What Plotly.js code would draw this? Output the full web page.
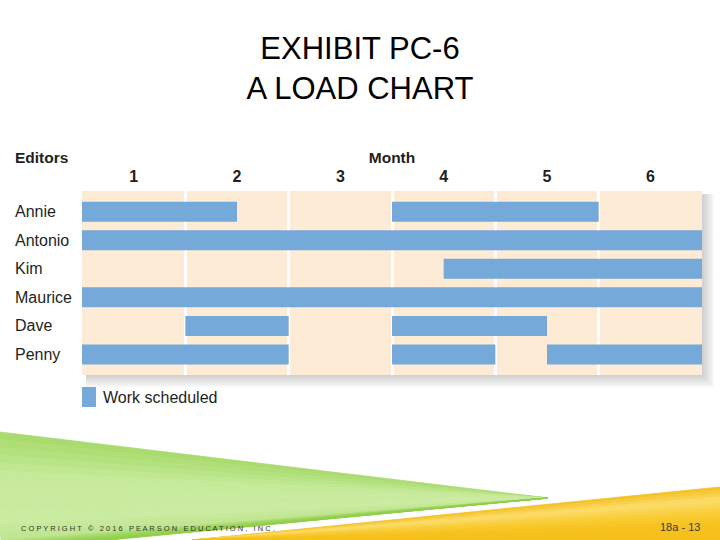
<!DOCTYPE html>
<html>
<head>
<meta charset="utf-8">
<script src="https://cdn.plot.ly/plotly-3.0.1.min.js"></script>
<style>html,body{margin:0;padding:0;background:#fff}#chart{width:720px;height:540px}</style>
</head>
<body>
<div id="chart"></div>
<script>
// ---- data ----
const editors = ['Annie', 'Antonio', 'Kim', 'Maurice', 'Dave', 'Penny'];
const monthLabels = ['1', '2', '3', '4', '5', '6'];
const segEditor = ['Annie', 'Annie', 'Antonio', 'Kim', 'Maurice', 'Dave', 'Dave', 'Penny', 'Penny', 'Penny'];
const segStart  = [0,   3, 0, 3.5, 0, 1, 3,   0, 3, 4.5];
const segEnd    = [1.5, 5, 6, 6,   6, 2, 4.5, 2, 4, 6];
const legendLabel = 'Work scheduled';
const titleLines = ['EXHIBIT PC-6', 'A LOAD CHART'];
const copyrightText = 'COPYRIGHT © 2016 PEARSON EDUCATION, INC.';
const slideNumber = '18a - 13';

// ---- helpers (pixel -> paper, margins are 0) ----
const W = 720, H = 540;
const px = x => x / W;
const py = y => 1 - y / H;
function pathFrom(points) {
  return 'M' + points.map(p => px(p[0]).toFixed(5) + ',' + py(p[1]).toFixed(5)).join('L') + 'Z';
}
function hex2rgb(h){return [parseInt(h.slice(1,3),16),parseInt(h.slice(3,5),16),parseInt(h.slice(5,7),16)];}
function lerpColor(stops, t){
  const n = stops.length - 1; const s = Math.min(n - 1e-9, t * n); const i = Math.floor(s); const f = s - i;
  const a = hex2rgb(stops[i]), b = hex2rgb(stops[i+1]);
  return 'rgb(' + a.map((v,k)=>Math.round(v + (b[k]-v)*f)).join(',') + ')';
}

const SANS = '"Liberation Sans", Arial, Helvetica, sans-serif';
const TXT = '#231F20';
const BAR = '#74A9D9';
const PEACH = '#FDEBD5';

const barTrace = {
  type: 'bar', orientation: 'h',
  y: segEditor,
  base: segStart,
  x: segEnd.map((e, i) => e - segStart[i]),
  width: 0.70,
  marker: {color: BAR, line: {width: 0}},
  name: legendLabel,
  showlegend: false,
  hoverinfo: 'skip'
};

const shapes = [];
// soft shadow right/bottom of the chart panel
for (let k = 1; k <= 6; k++) {
  const d = 2 * k;
  shapes.push({type: 'path', xref: 'paper', yref: 'paper', layer: 'below',
    path: pathFrom([[702,194],[702+d,194],[702+d,375+d],[86,375+d],[86,375],[702,375]]),
    fillcolor: '#404040', opacity: 0.045, line: {width: 0}});
}
// green fan (footer decoration)
const greenStops = ['#A6D96A', '#C6EA9A', '#CBECA2', '#B2DE7C', '#9CD55A', '#8FCD46'];
const gTip = [548, 498];
const gEdge = [];
const nG = 28;
for (let i = 0; i <= nG; i++) {
  const t = i / nG;
  const L = 108 + 110; const s = t * L;
  gEdge.push(s <= 108 ? [0, 432 + s] : [s - 108, 540]);
}
for (let i = 0; i < nG; i++) {
  const c = lerpColor(greenStops, (i + 0.5) / nG);
  shapes.push({type: 'path', xref: 'paper', yref: 'paper', layer: 'below',
    path: pathFrom([gTip, gEdge[i], gEdge[i+1]]),
    fillcolor: c, line: {width: 0.8, color: c}});
}
// yellow fan
const yStops = ['#F4BE1E', '#FCDD6C', '#F9CC34', '#F6C11C', '#F5BF1A'];
const yBase = [192, 540];
const nY = 16;
for (let i = 0; i < nY; i++) {
  const a = [720, 487 + 53 * i / nY], b = [720, 487 + 53 * (i + 1) / nY];
  const c = lerpColor(yStops, (i + 0.5) / nY);
  shapes.push({type: 'path', xref: 'paper', yref: 'paper', layer: 'below',
    path: pathFrom([yBase, a, b]), fillcolor: c, line: {width: 0.8, color: c}});
}
// legend swatch
shapes.push({type: 'rect', xref: 'paper', yref: 'paper', layer: 'above',
  x0: px(82), x1: px(96), y0: py(407), y1: py(387), fillcolor: BAR, line: {width: 0}});

const annotations = [];
editors.forEach(name => annotations.push({
  xref: 'paper', x: px(13), xanchor: 'left', yref: 'y', y: name, yanchor: 'middle',
  text: name, showarrow: false, font: {family: SANS, size: 16, color: TXT}
}));
annotations.push({xref: 'paper', yref: 'paper', x: px(13), y: py(157), xanchor: 'left', yanchor: 'middle',
  text: 'Editors', showarrow: false, font: {family: SANS, size: 15.5, color: TXT, weight: 'bold'}});
annotations.push({xref: 'paper', yref: 'paper', x: px(101), y: py(397), xanchor: 'left', yanchor: 'middle',
  text: legendLabel, showarrow: false, font: {family: SANS, size: 16, color: TXT}});
const spaced = copyrightText.split(' ').map(w => w.split('').join(' ')).join('\u00A0\u00A0 ');
annotations.push({xref: 'paper', yref: 'paper', x: px(19), y: py(528), xanchor: 'left', yanchor: 'middle',
  text: spaced, showarrow: false, font: {family: SANS, size: 7.5, color: '#333333'}});
annotations.push({xref: 'paper', yref: 'paper', x: px(702), y: py(527), xanchor: 'right', yanchor: 'middle',
  text: slideNumber, showarrow: false, font: {family: SANS, size: 11, color: '#3A3A3A'}});

const layout = {
  width: W, height: H,
  margin: {l: 0, r: 0, t: 0, b: 0},
  paper_bgcolor: '#FFFFFF',
  plot_bgcolor: PEACH,
  showlegend: false,
  title: {text: titleLines.join('<br>'), x: 0.5, xanchor: 'center', xref: 'paper',
    y: py(59), yanchor: 'top', yref: 'container',
    font: {family: SANS, size: 31, color: '#000000'}},
  xaxis: {
    domain: [px(82), px(702)], range: [0, 6], side: 'top',
    tickvals: monthLabels.map((_, i) => i + 0.5), ticktext: monthLabels,
    tickfont: {family: SANS, size: 16, color: TXT, weight: 'bold'},
    ticklabelstandoff: 5,
    ticks: '', showgrid: false, zeroline: false, showline: false,
    minor: {tickvals: monthLabels.map((_, i) => i).slice(1), showgrid: true, gridcolor: '#FFFFFF', gridwidth: 3, ticks: ''},
    title: {text: 'Month', standoff: 0, font: {family: SANS, size: 15.5, color: TXT, weight: 'bold'}},
    fixedrange: true
  },
  yaxis: {
    domain: [py(375), py(191)], type: 'category', categoryorder: 'array', categoryarray: editors,
    range: [5.72, -0.725], showticklabels: false, showgrid: false, zeroline: false, showline: false, ticks: '',
    fixedrange: true
  },
  shapes: shapes,
  annotations: annotations
};

Plotly.newPlot('chart', [barTrace], layout, {displayModeBar: false, staticPlot: true});
</script>
</body>
</html>
